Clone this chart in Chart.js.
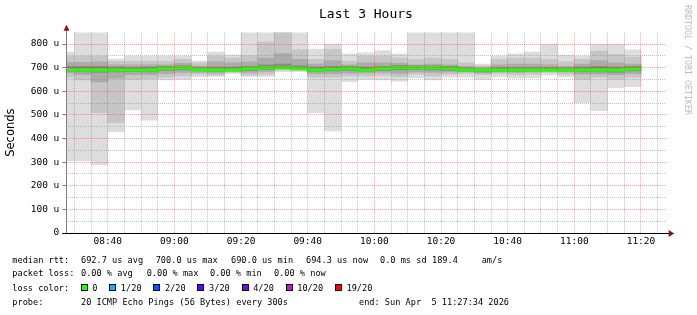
<!DOCTYPE html>
<html>
<head>
<meta charset="utf-8">
<script src="https://cdn.jsdelivr.net/npm/chart.js@4.4.1/dist/chart.umd.min.js"></script>
<style>
html,body{margin:0;padding:0;background:#fff;}
#wrap{position:relative;width:697px;height:315px;overflow:hidden;background:#fff;}
#wrap canvas{position:absolute;left:0;top:0;}
.t{position:absolute;white-space:pre;font-family:'DejaVu Sans Mono',monospace;color:#000;font-size:8.6px;line-height:10px;}
.title{position:absolute;left:319px;top:5.5px;white-space:pre;font-family:'DejaVu Sans Mono',monospace;font-size:13px;line-height:15px;color:#000;}
.wm{position:absolute;left:683px;top:5px;writing-mode:vertical-rl;white-space:pre;font-family:'DejaVu Sans Mono',monospace;font-size:8.3px;line-height:9px;color:#bdbdbd;}
.lc{position:absolute;left:80.7px;top:282.7px;white-space:nowrap;font-family:'DejaVu Sans Mono',monospace;font-size:8.6px;line-height:10px;color:#000;}
.lc .it{display:inline-block;margin-right:11.8px;}
.lc .sq{display:inline-block;width:5px;height:5px;border:1px solid #000;margin-right:4.6px;vertical-align:-0.5px;}
</style>
</head>
<body>
<div id="wrap">
<canvas id="c" width="697" height="315"></canvas>
<div class="title">Last 3 Hours</div>
<div class="wm">RRDTOOL / TOBI OETIKER</div>

<div class="t" style="left:12.3px;top:255px">median rtt:</div>
<div class="t" style="left:81px;top:255px">692.7 us avg</div>
<div class="t" style="left:155.7px;top:255px">700.0 us max</div>
<div class="t" style="left:231px;top:255px">690.0 us min</div>
<div class="t" style="left:306px;top:255px">694.3 us now</div>
<div class="t" style="left:380px;top:255px">0.0 ms sd</div>
<div class="t" style="left:432px;top:255px">189.4</div>
<div class="t" style="left:481.7px;top:255px">am/s</div>

<div class="t" style="left:12.3px;top:268.3px">packet loss:</div>
<div class="t" style="left:81px;top:268.3px">0.00 % avg</div>
<div class="t" style="left:146.7px;top:268.3px">0.00 % max</div>
<div class="t" style="left:210px;top:268.3px">0.00 % min</div>
<div class="t" style="left:274px;top:268.3px">0.00 % now</div>

<div class="t" style="left:12.3px;top:282.7px">loss color:</div>
<div class="lc" id="lossLegend"></div>

<div class="t" style="left:12.3px;top:296.7px">probe:</div>
<div class="t" style="left:81px;top:296.7px">20 ICMP Echo Pings (56 Bytes) every 300s</div>
<div class="t" style="left:359px;top:296.7px">end: Sun Apr  5 11:27:34 2026</div>
</div>

<script>
// ---- data (5-minute bins, values in microseconds) ----
const binStarts = ['08:25','08:30','08:35','08:40','08:45','08:50','08:55',
  '09:00','09:05','09:10','09:15','09:20','09:25','09:30','09:35','09:40','09:45','09:50','09:55',
  '10:00','10:05','10:10','10:15','10:20','10:25','10:30','10:35','10:40','10:45','10:50','10:55',
  '11:00','11:05','11:10','11:15'];
const binMinutes = 5;
const windowStart = '08:27:34';
const windowEnd = '11:27:34';

const smokeMax = [766,848,848,736,748,748,749,749,728,766,753,848,848,848,848,779,800,758,763,
  772,758,848,848,848,848,715,749,758,766,800,753,749,800,800,775];
const smokeMin = [305,305,288,429,521,478,648,650,662,663,676,663,663,683,683,509,432,641,650,
  648,643,658,648,660,660,650,662,655,658,669,662,552,518,615,619];
const band2Hi = [748,748,748,727,727,727,727,735,720,748,740,750,808,848,775,735,777,727,748,
  748,740,735,740,735,720,708,735,740,740,735,725,735,770,755,745];
const band2Lo = [660,648,509,467,650,652,660,665,672,668,680,668,672,690,688,660,660,665,665,
  668,662,672,665,672,675,670,675,670,672,680,672,650,660,650,660];
const band3Hi = [722,722,725,712,712,712,712,718,708,725,720,725,740,760,735,715,730,712,720,
  720,718,712,715,712,705,700,712,715,715,712,705,715,730,720,715];
const band3Lo = [678,670,640,655,670,670,676,680,680,678,684,680,684,694,690,674,674,678,678,
  680,676,682,680,682,682,678,682,680,682,684,682,672,672,670,675];
const band4Hi = [705,705,706,702,700,702,705,708,700,702,702,706,712,715,708,702,705,705,702,
  706,710,708,708,705,698,696,700,700,700,700,698,702,705,702,705];
const band4Lo = [684,682,680,682,683,682,688,690,686,684,686,688,692,696,692,684,686,688,684,
  688,690,692,690,688,684,682,685,684,685,686,685,682,682,680,686];
const medianRtt = [690,690,690,690,690,690,697,700,692,690,690,696,700,700,696,690,694,697,690,
  696,700,700,700,697,690,690,690,690,690,690,690,690,690,690,694.3];

const xTickLabels = ['08:40','09:00','09:20','09:40','10:00','10:20','10:40','11:00','11:20'];
const yTickLabels = ['0','100 u','200 u','300 u','400 u','500 u','600 u','700 u','800 u'];
const lossLabels = ['0','1/20','2/20','3/20','4/20','10/20','19/20'];
const lossColors = ['#26ff00','#00b8ff','#0059ff','#5e00ff','#7e00ff','#dd00ff','#ff0000'];

// ---- helpers ----
function toMin(s){ const p = s.split(':').map(Number); return p[0]*60 + p[1] + (p[2]||0)/60; }

// loss colour legend
const lossEl = document.getElementById('lossLegend');
lossLabels.forEach((l,i)=>{
  const it = document.createElement('span'); it.className='it';
  const sq = document.createElement('span'); sq.className='sq'; sq.style.background = lossColors[i];
  it.appendChild(sq); it.appendChild(document.createTextNode(l));
  lossEl.appendChild(it);
});

function band(lo, hi, color, order){
  return {
    type:'bar',
    data: binStarts.map((t,i)=>({x: toMin(t)+binMinutes/2, y:[lo[i], hi[i]]})),
    backgroundColor: color, borderWidth: 0,
    barPercentage: 1, categoryPercentage: 1, grouped: false,
    order: order, clip: 0
  };
}

const lastI = binStarts.length - 1;
const medianData = binStarts.map((t,i)=>({x: toMin(t), y: medianRtt[i]}))
  .concat([{x: toMin(binStarts[lastI]) + binMinutes, y: medianRtt[lastI]}]);

const majorX = v => xTickLabels.some(l => Math.abs(toMin(l) - v) < 1e-6);
const majorY = v => Math.abs(v % 100) < 1e-6;
const MAJOR = 'rgba(220,0,0,0.32)';
const MINOR = 'rgba(135,135,135,0.5)';
const tickFont = {family:'DejaVu Sans Mono', size:9.5};

const axesPlugin = {
  id:'axes',
  afterDraw(chart){
    const {ctx, chartArea:a} = chart;
    ctx.save();
    const xl = Math.floor(a.left) + 0.5;
    const yb = Math.round(a.bottom) + 0.5;
    ctx.strokeStyle = '#808080'; ctx.lineWidth = 1;
    ctx.beginPath(); ctx.moveTo(xl, yb); ctx.lineTo(xl, a.top - 2); ctx.stroke();
    ctx.strokeStyle = '#000';
    ctx.beginPath(); ctx.moveTo(a.left - 4, yb); ctx.lineTo(a.right + 3, yb); ctx.stroke();
    ctx.fillStyle = '#8e1212';
    ctx.beginPath(); ctx.moveTo(xl - 3, a.top - 1.5); ctx.lineTo(xl + 3, a.top - 1.5); ctx.lineTo(xl, a.top - 7.5); ctx.closePath(); ctx.fill();
    ctx.beginPath(); ctx.moveTo(a.right + 2.5, yb - 3.5); ctx.lineTo(a.right + 2.5, yb + 3.5); ctx.lineTo(a.right + 8, yb); ctx.closePath(); ctx.fill();
    ctx.restore();
  }
};

new Chart(document.getElementById('c'), {
  type: 'bar',
  data: {
    datasets: [
      {
        type:'line', data: medianData, stepped: true,
        borderColor:'#26ff00', borderWidth:3, pointRadius:0, fill:false,
        borderCapStyle:'butt', order:0, clip:0
      },
      band(band4Lo, band4Hi, '#8a8a8a', 1),
      band(band3Lo, band3Hi, '#ababab', 2),
      band(band2Lo, band2Hi, '#c6c6c6', 3),
      band(smokeMin, smokeMax, '#dddddd', 4)
    ]
  },
  options: {
    responsive: false,
    devicePixelRatio: 1,
    animation: false,
    events: [],
    layout: { padding: { top: 32.2, right: 30.8, left: 0, bottom: 0 } },
    plugins: { legend:{display:false}, tooltip:{enabled:false}, title:{display:false} },
    scales: {
      x: {
        type:'linear',
        min: toMin(windowStart), max: toMin(windowEnd),
        offset: false,
        grid: {
          offset:false, z:1, lineWidth:1, drawTicks:false,
          color: c => (c.tick && majorX(c.tick.value)) ? MAJOR : MINOR
        },
        border: { display:false, dash:[1,1] },
        ticks: {
          autoSkip:false, maxRotation:0, minRotation:0, padding:3,
          font: tickFont, color:'#000',
          callback: v => { const h = xTickLabels.find(l => Math.abs(toMin(l) - v) < 1e-6); return h || ''; }
        },
        afterBuildTicks: s => {
          const t = [];
          for (let m = Math.ceil(s.min / binMinutes) * binMinutes; m <= s.max; m += binMinutes) t.push({value:m});
          s.ticks = t;
        },
        afterFit: s => { s.height = 82; }
      },
      y: {
        type:'linear', min:0, max:850,
        grid: {
          z:1, lineWidth:1, tickLength:4,
          color: c => (c.tick && majorY(c.tick.value)) ? MAJOR : MINOR,
          tickColor: c => (c.tick && majorY(c.tick.value)) ? '#808080' : 'rgba(0,0,0,0)'
        },
        border: { display:false, dash:[1,1] },
        ticks: {
          autoSkip:false, padding:3, font: tickFont, color:'#000',
          callback: v => majorY(v) ? (yTickLabels[Math.round(v/100)] || '') : ''
        },
        afterBuildTicks: s => {
          const t = [];
          for (let v = 0; v <= 800; v += 50) t.push({value:v});
          s.ticks = t;
        },
        title: {
          display:true, text:'Seconds', color:'#000',
          font:{family:'DejaVu Sans', size:11.5},
          padding:{top:4, bottom:0}
        },
        afterFit: s => { s.width = 66.3; }
      }
    }
  },
  plugins: [axesPlugin]
});
</script>
</body>
</html>
